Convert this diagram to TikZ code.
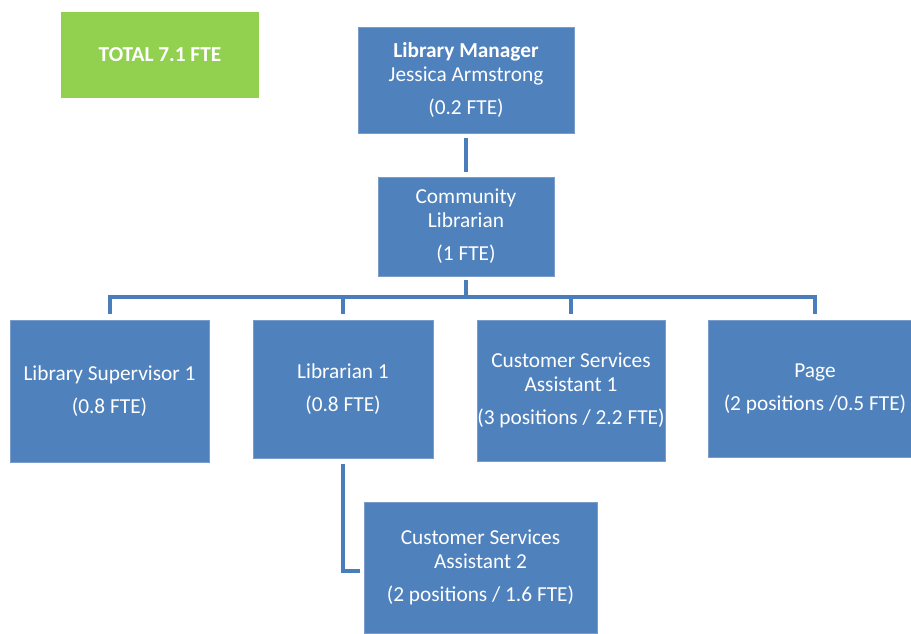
\documentclass[tikz,border=0pt]{standalone}
\usepackage{fontspec}
\setmainfont{Carlito}
\definecolor{boxblue}{HTML}{4F81BD}
\definecolor{boxedge}{HTML}{7A9CCB}
\definecolor{linkblue}{HTML}{4A7EBB}
\definecolor{totgreen}{HTML}{92D050}
\tikzset{
  unit/.style={x=0.75pt,y=-0.75pt},
  orgbox/.style={rectangle, fill=boxblue, draw=boxedge, line width=0.6pt, inner sep=0pt,
    text=white, align=center, font=\fontsize{16}{18}\selectfont},
  totbox/.style={rectangle, fill=totgreen, draw=none, inner sep=0pt,
    text=white, align=center, font=\fontsize{16}{18}\selectfont\bfseries},
  conn/.style={draw=linkblue, line width=3pt, line join=miter, line cap=butt}
}
\begin{document}
\begin{tikzpicture}[unit]
\useasboundingbox (0,0) rectangle (911,633);
\node[totbox, minimum width=148.5pt, minimum height=64.5pt] (tot) at (160,55) {TOTAL 7.1 FTE};
\node[orgbox, minimum width=162pt, minimum height=79.5pt] (lm) at (466,80)
  {\textbf{Library Manager}\\Jessica Armstrong\\[6.75pt](0.2 FTE)};
\node[orgbox, minimum width=132pt, minimum height=74.25pt] (cl) at (466,226.5)
  {Community\\Librarian\\[6.75pt](1 FTE)};
\node[orgbox, minimum width=149.25pt, minimum height=106.5pt] (ls) at (109.5,391)
  {Library Supervisor 1\\[6.75pt](0.8 FTE)};
\node[orgbox, minimum width=135pt, minimum height=103.5pt] (l1) at (343,389)
  {Librarian 1\\[6.75pt](0.8 FTE)};
\node[orgbox, minimum width=141pt, minimum height=105.75pt] (csa1) at (571,390.5)
  {Customer Services\\Assistant 1\\[6.75pt](3 positions / 2.2 FTE)};
\node[orgbox, minimum width=160.5pt, minimum height=102.75pt] (page) at (815,388.5)
  {Page\\[6.75pt](2 positions /0.5 FTE)};
\node[orgbox, minimum width=174.75pt, minimum height=98.25pt] (csa2) at (480.5,567.5)
  {Customer Services\\Assistant 2\\[6.75pt](2 positions / 1.6 FTE)};
\coordinate (bus) at (466,297);
\draw[conn, shorten <=3.5pt, shorten >=3.5pt] (lm.south) -- (cl.north);
\draw[conn, shorten <=3pt] (cl.south) -- (bus);
\draw[conn, shorten >=4pt] (bus) -| (ls.north);
\draw[conn, shorten >=4pt] (bus) -| (l1.north);
\draw[conn, shorten >=4pt] (bus) -| (csa1.north);
\draw[conn, shorten >=4pt] (bus) -| (page.north);
\draw[conn, shorten <=4pt, shorten >=2.5pt] (l1.south) |- ([yshift=-2.6pt]csa2.west);
\end{tikzpicture}
\end{document}
